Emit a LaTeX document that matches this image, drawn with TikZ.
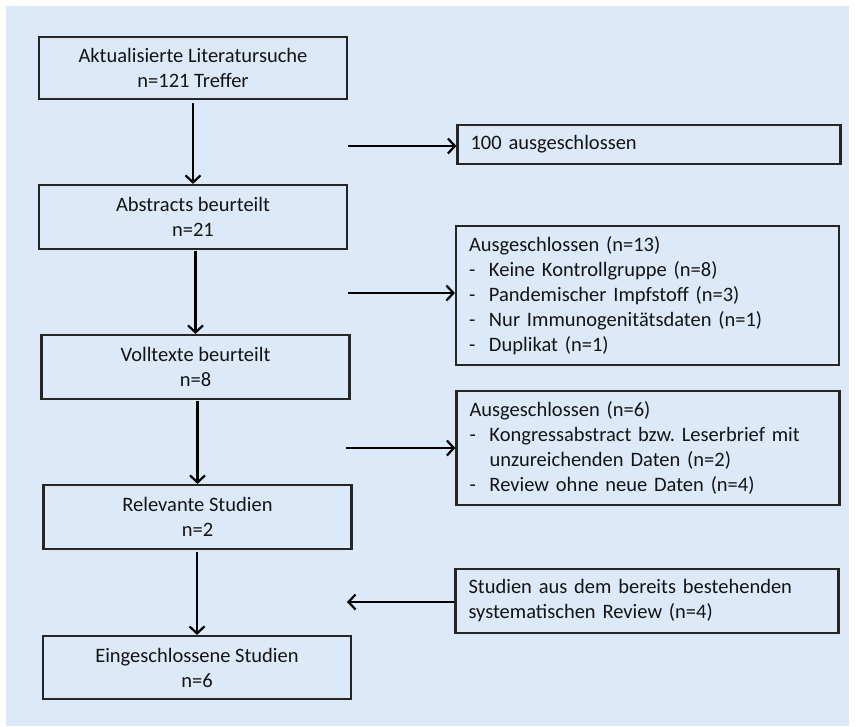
\documentclass[tikz,border=0pt]{standalone}
\usepackage{fontspec}
\setmainfont{Carlito}
\usetikzlibrary{arrows.meta}
\definecolor{bgblue}{RGB}{220,233,248}
\definecolor{linegrey}{RGB}{38,38,38}
\newcommand{\itm}[1]{\makebox[20pt][l]{-}#1}
\begin{document}
\frenchspacing
\begin{tikzpicture}[x=1pt,y=-1pt,
  every node/.style={font=\fontsize{20.5}{25}\selectfont, text=black!92},
  mainbox/.style={draw=linegrey, line width=2.2pt, minimum width=308pt, align=center, inner sep=0pt},
  sidebox/.style={draw=linegrey, line width=2.2pt, minimum width=383pt, align=left, text width=357pt, inner xsep=13pt, inner ysep=0pt},
  conn/.style={line width=2.2pt, draw=black, -{Straight Barb[length=7pt,width=15pt,line width=2.2pt]}}]
\useasboundingbox (0,0) rectangle (856,726);
\fill[white] (0,0) rectangle (856,726);
\fill[bgblue] (6,6) rectangle (849,726);

\node[mainbox, minimum height=62pt] (b1) at (193,68) {Aktualisierte Literatursuche\\n=121 Treffer};
\node[mainbox, minimum height=64pt] (b2) at (193,217) {Abstracts beurteilt\\n=21};
\node[mainbox, minimum height=64pt] (b3) at (195.5,367) {Volltexte beurteilt\\n=8};
\node[mainbox, minimum height=64pt] (b4) at (197.5,517) {Relevante Studien\\n=2};
\node[mainbox, minimum height=63pt] (b5) at (197,667.5) {Eingeschlossene Studien\\n=6};

\node[sidebox, minimum height=39pt] (r1) at (649,144.5) {100 ausgeschlossen};
\node[sidebox, minimum height=139pt] (r2) at (647.5,295.5) {Ausgeschlossen (n=13)\\\itm{Keine Kontrollgruppe (n=8)}\\\itm{Pandemischer Impfstoff (n=3)}\\\itm{Nur Immunogenitätsdaten (n=1)}\\\itm{Duplikat (n=1)}};
\node[sidebox, minimum height=114pt] (r3) at (648,448) {Ausgeschlossen (n=6)\\\itm{Kongressabstract bzw. Leserbrief mit}\\\hspace*{20pt}unzureichenden Daten (n=2)\\\itm{Review ohne neue Daten (n=4)}};
\node[sidebox, minimum height=64pt] (r4) at (647,601) {Studien aus dem bereits bestehenden\\systematischen Review (n=4)};

\coordinate (s1) at (348,146);
\coordinate (s2) at (348,293);
\coordinate (s3) at (346,448);
\coordinate (e4) at (347,602);

\draw[conn, shorten <=3pt] (b1.south) -- (b2.north);
\draw[conn, shorten <=1pt] (b2.south -| b3.north) -- (b3.north);
\draw[conn, shorten <=1pt] (b3.south -| b4.north) -- (b4.north);
\draw[conn, shorten <=2pt] (b4.south -| b5.north) -- (b5.north);

\draw[conn] (s1) -- (s1 -| r1.west);
\draw[conn] (s2) -- (s2 -| r2.west);
\draw[conn] (s3) -- (s3 -| r3.west);
\draw[conn] (e4 -| r4.west) -- (e4);
\end{tikzpicture}
\end{document}
